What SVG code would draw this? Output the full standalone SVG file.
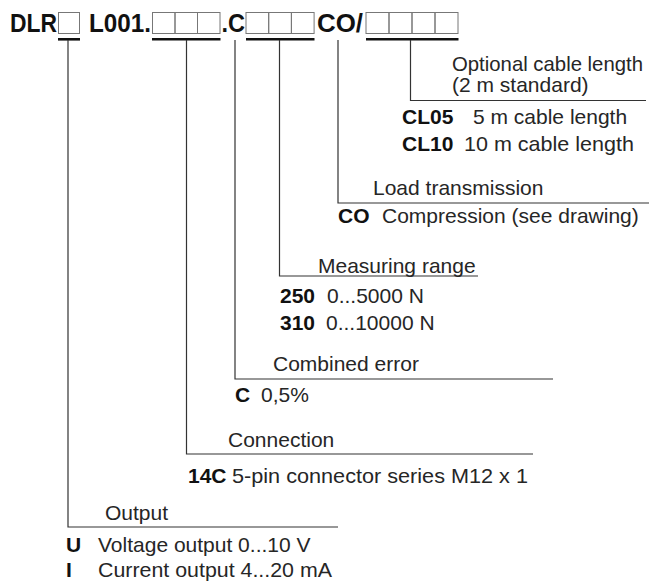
<svg xmlns="http://www.w3.org/2000/svg" width="649" height="584" viewBox="0 0 649 584">
<style>
  .t { font-family: "Liberation Sans", Arial, sans-serif; font-size: 21px; fill: #262626; }
  .b { font-family: "Liberation Sans", Arial, sans-serif; font-size: 21px; font-weight: bold; fill: #111; }
  .h { font-family: "Liberation Sans", Arial, sans-serif; font-size: 25px; font-weight: bold; fill: #111; }
  .cell { fill: none; stroke: #777; stroke-width: 1; }
  .bar { stroke: #111; stroke-width: 2.6; }
  .con { fill: none; stroke: #333; stroke-width: 1.2; }
</style>
<rect width="649" height="584" fill="#fff"/>

<g id="code">
  <text class="h" x="10" y="32" textLength="47" lengthAdjust="spacingAndGlyphs">DLR</text>
  <rect class="cell" x="58.5" y="12.5" width="21" height="21"/>
  <text class="h" x="89" y="32" textLength="62" lengthAdjust="spacingAndGlyphs">L001.</text>
  <g>
    <rect class="cell" x="152.5" y="12.5" width="22.5" height="21"/>
    <rect class="cell" x="175" y="12.5" width="22.5" height="21"/>
    <rect class="cell" x="197.5" y="12.5" width="22.5" height="21"/>
  </g>
  <text class="h" x="221.5" y="32" textLength="23.5" lengthAdjust="spacingAndGlyphs">.C</text>
  <g>
    <rect class="cell" x="246" y="12.5" width="22.7" height="21"/>
    <rect class="cell" x="268.7" y="12.5" width="22.7" height="21"/>
    <rect class="cell" x="291.4" y="12.5" width="22.7" height="21"/>
  </g>
  <text class="h" x="317" y="32" textLength="46" lengthAdjust="spacingAndGlyphs">CO/</text>
  <g>
    <rect class="cell" x="366" y="12.5" width="23" height="21"/>
    <rect class="cell" x="389" y="12.5" width="23" height="21"/>
    <rect class="cell" x="412" y="12.5" width="23" height="21"/>
    <rect class="cell" x="435" y="12.5" width="23" height="21"/>
  </g>
  <line class="bar" x1="58" y1="39.3" x2="80" y2="39.3"/>
  <line class="bar" x1="152" y1="39.3" x2="220.5" y2="39.3"/>
  <line class="bar" x1="246" y1="39.3" x2="314.5" y2="39.3"/>
  <line class="bar" x1="366" y1="39.3" x2="458.5" y2="39.3"/>
</g>

<g id="connectors">
  <path class="con" d="M68 40 V527 H338"/>
  <path class="con" d="M186.5 40 V454 H533"/>
  <path class="con" d="M235 40 V379 H553"/>
  <path class="con" d="M279.5 40 V276 H478"/>
  <path class="con" d="M338 40 V203 H649"/>
  <path class="con" d="M410.5 40 V100.5 H646"/>
</g>

<g id="cable-length">
  <text class="t" x="452" y="70.5" textLength="191" lengthAdjust="spacingAndGlyphs">Optional cable length</text>
  <text class="t" x="452" y="92">(2 m standard)</text>
  <text class="b" x="402" y="123.5">CL05</text>
  <text class="t" x="473" y="123.5">5 m cable length</text>
  <text class="b" x="402" y="151">CL10</text>
  <text class="t" x="464" y="151" textLength="170" lengthAdjust="spacingAndGlyphs">10 m cable length</text>
</g>

<g id="load-transmission">
  <text class="t" x="373" y="195">Load transmission</text>
  <text class="b" x="338" y="223">CO</text>
  <text class="t" x="382" y="223">Compression (see drawing)</text>
</g>

<g id="measuring-range">
  <text class="t" x="318" y="273">Measuring range</text>
  <text class="b" x="280" y="303">250</text>
  <text class="t" x="327" y="303">0...5000 N</text>
  <text class="b" x="280" y="330">310</text>
  <text class="t" x="326" y="330">0...10000 N</text>
</g>

<g id="combined-error">
  <text class="t" x="273" y="371">Combined error</text>
  <text class="b" x="235" y="402">C</text>
  <text class="t" x="261" y="402">0,5%</text>
</g>

<g id="connection">
  <text class="t" x="228" y="447">Connection</text>
  <text class="b" x="188" y="483">14C</text>
  <text class="t" x="232" y="483" textLength="296" lengthAdjust="spacingAndGlyphs">5-pin connector series M12 x 1</text>
</g>

<g id="output">
  <text class="t" x="105" y="520">Output</text>
  <text class="b" x="66" y="552">U</text>
  <text class="t" x="98" y="552">Voltage output 0...10 V</text>
  <text class="b" x="66" y="577">I</text>
  <text class="t" x="98" y="577" textLength="234" lengthAdjust="spacingAndGlyphs">Current output 4...20 mA</text>
</g>
</svg>
